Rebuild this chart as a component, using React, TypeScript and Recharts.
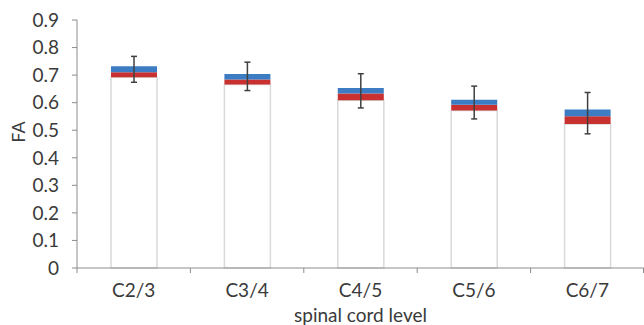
import React from 'react';
import { BarChart, Bar, XAxis, YAxis, ErrorBar, Label } from 'recharts';

const categories = ['C2/3', 'C3/4', 'C4/5', 'C5/6', 'C6/7'];
const boxLow = [0.692, 0.666, 0.609, 0.572, 0.523];
const boxMid = [0.71, 0.684, 0.633, 0.592, 0.551];
const boxHigh = [0.732, 0.704, 0.653, 0.611, 0.575];
const errLow = [0.674, 0.644, 0.581, 0.541, 0.487];
const errHigh = [0.768, 0.747, 0.705, 0.66, 0.637];
const yTicks = [0, 0.1, 0.2, 0.3, 0.4, 0.5, 0.6, 0.7, 0.8, 0.9];

const data = categories.map((c, i) => ({
  name: c,
  base: boxLow[i],
  red: boxMid[i] - boxLow[i],
  blue: boxHigh[i] - boxMid[i],
  err: [boxMid[i] - errLow[i], errHigh[i] - boxMid[i]],
}));

const FONT = 'Lato, "Open Sans", sans-serif';
const PLOT_LEFT = 77;
const PLOT_RIGHT = 644;
const BAND = (PLOT_RIGHT - PLOT_LEFT) / categories.length;

const XTick = (props: any) => {
  const { x, y, payload, index } = props;
  return (
    <g>
      <line x1={x - BAND / 2} y1={y} x2={x - BAND / 2} y2={y + 5} stroke="#8c8c8c" />
      {index === categories.length - 1 && (
        <line x1={x + BAND / 2 - 0.5} y1={y} x2={x + BAND / 2 - 0.5} y2={y + 5} stroke="#8c8c8c" />
      )}
      <text x={x} y={y + 29} textAnchor="middle" fill="#3a3a3a" fontSize={19} fontFamily={FONT}>
        {payload.value}
      </text>
    </g>
  );
};

const FALabel = (props: any) => {
  const { viewBox } = props;
  const cx = viewBox.x + 18;
  const cy = viewBox.y + viewBox.height / 2 - 12;
  return (
    <text x={cx} y={cy} transform={`rotate(-90, ${cx}, ${cy})`} textAnchor="middle" dominantBaseline="central" fill="#3a3a3a" fontSize={18} fontFamily={FONT}>
      FA
    </text>
  );
};

export default function App() {
  return (
    <div style={{ position: 'absolute', left: 0, top: 0, width: 644, height: 325, background: '#fff' }}>
      <BarChart
        width={644}
        height={325}
        data={data}
        margin={{ top: 20, right: 0, bottom: 0, left: 0 }}
        barSize={46}
      >
        <XAxis
          dataKey="name"
          height={57}
          tickSize={0}
          tickMargin={0}
          tickLine={false}
          stroke="#8c8c8c"
          tick={<XTick />}
          interval={0}
        >
          <Label value="spinal cord level" position="insideBottom" offset={3} fill="#3a3a3a" fontSize={19} fontFamily={FONT} />
        </XAxis>
        <YAxis
          width={PLOT_LEFT}
          domain={[0, 0.9]}
          ticks={yTicks}
          tickSize={5}
          tickMargin={13}
          stroke="#8c8c8c"
          tick={{ fill: '#3a3a3a', fontSize: 19, fontFamily: FONT }}
          tickFormatter={(v: number) => String(Number(v.toFixed(1)))}
        >
          <Label content={<FALabel />} />
        </YAxis>
        <Bar dataKey="base" stackId="s" fill="#ffffff" stroke="#d9d9d9" strokeWidth={1.5} isAnimationActive={false} />
        <Bar dataKey="red" stackId="s" fill="#c8312f" isAnimationActive={false}>
          <ErrorBar dataKey="err" direction="y" width={3} stroke="#404040" strokeWidth={1.5} />
        </Bar>
        <Bar dataKey="blue" stackId="s" fill="#3b7cc2" isAnimationActive={false} />
      </BarChart>
    </div>
  );
}
